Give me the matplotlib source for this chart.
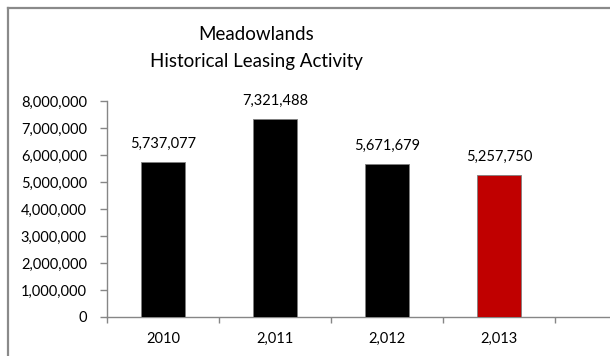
import matplotlib
matplotlib.use("Agg")
import matplotlib.pyplot as plt
from matplotlib.lines import Line2D

categories = ["2010", "2,011", "2,012", "2,013", ""]
values = [5737077, 7321488, 5671679, 5257750]
colors = ["#000000", "#000000", "#000000", "#C00000"]
yticks = [0, 1000000, 2000000, 3000000, 4000000, 5000000, 6000000, 7000000, 8000000]

plt.rcParams['font.family'] = ['Lato', 'DejaVu Sans']

W, H = 610, 356
fig = plt.figure(figsize=(W / 100, H / 100), dpi=100)
fig.patch.set_edgecolor("none")
fig.patch.set_linewidth(0)

# outer chart frame (top and left edges visible; rest is cropped)
fx, fy = 7.5 / W, 1 - 7.5 / H
fig.add_artist(Line2D([fx, 1.05], [fy, fy], transform=fig.transFigure, color="#8a8a8a", linewidth=1.6))
fig.add_artist(Line2D([fx, fx], [-0.05, fy], transform=fig.transFigure, color="#8a8a8a", linewidth=1.6))

ax = fig.add_axes([107 / W, 1 - 317 / H, 560 / W, (317 - 101) / H])
x = list(range(len(values)))
ax.bar(x, values, width=0.4, color=colors, edgecolor="#7f7f7f", linewidth=0.6, zorder=3)
for xi, v in zip(x, values):
    ax.annotate(f"{v:,}", (xi, v), xytext=(0, 8), textcoords="offset points",
                ha="center", va="bottom", fontsize=10.5, color="#000000")

ax.set_xlim(-0.5, len(categories) - 0.5)
ax.set_ylim(0, 8000000)
ax.set_yticks(yticks)
ax.set_yticklabels([f"{t:,}" for t in yticks], fontsize=10.5)
ax.set_xticks(x)
ax.set_xticklabels(categories[:len(values)], fontsize=10.5)
ax.set_xticks([i - 0.5 for i in range(len(categories) + 1)], minor=True)
ax.tick_params(axis="x", which="major", length=0, pad=11)
ax.tick_params(axis="x", which="minor", length=4, color="#868686", width=1)
ax.tick_params(axis="y", length=5, color="#868686", width=1, pad=9.5)

for s in ["top", "right"]:
    ax.spines[s].set_visible(False)
for s in ["left", "bottom"]:
    ax.spines[s].set_color("#868686")
    ax.spines[s].set_linewidth(1)

fig.text(256 / W, 1 - 34 / H, "Meadowlands", ha="center", va="center", fontsize=13.5)
fig.text(256 / W, 1 - 62 / H, "Historical Leasing Activity", ha="center", va="center", fontsize=13.5)

fig.savefig("out.png", dpi=100)
